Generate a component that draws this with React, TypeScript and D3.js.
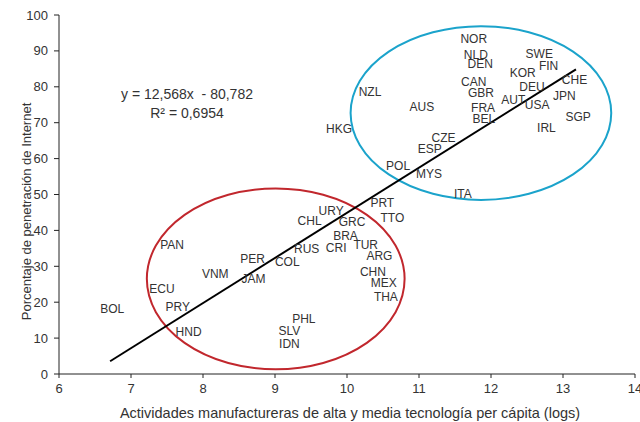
import React from "react";
import * as d3 from "d3";

const countries = ["NOR","NLD","DEN","SWE","FIN","KOR","CHE","CAN","GBR","DEU","AUT","USA","JPN","NZL","AUS","FRA","BEL","SGP","IRL","HKG","CZE","ESP","POL","MYS","ITA","PRT","TTO","URY","CHL","GRC","BRA","TUR","RUS","CRI","ARG","PAN","PER","COL","VNM","JAM","CHN","MEX","THA","ECU","PRY","BOL","HND","PHL","SLV","IDN"];
const techLogs = [11.76,11.79,11.85,12.67,12.80,12.44,13.16,11.76,11.86,12.57,12.31,12.64,13.02,10.32,11.04,11.89,11.90,13.21,12.77,9.89,11.34,11.15,10.71,11.14,11.61,10.49,10.63,9.78,9.48,10.07,9.98,10.26,9.44,9.85,10.45,7.57,8.69,9.17,8.17,8.70,10.36,10.51,10.54,7.43,7.65,6.74,7.80,9.40,9.20,9.20];
const internetPct = [93.3,89.05,86.3,89.3,85.9,84.0,81.9,81.4,78.2,80.0,76.3,75.0,77.4,78.6,74.5,74.2,71.1,71.7,68.7,68.4,65.7,62.6,58.1,55.7,50.3,47.6,43.5,45.5,42.6,42.4,38.5,35.9,34.9,35.2,32.9,36.0,32.1,31.3,27.9,26.4,28.6,25.4,21.4,23.6,18.7,18.3,11.8,15.4,12.0,8.4];

const xTicks = [6,7,8,9,10,11,12,13,14];
const yTicks = [0,10,20,30,40,50,60,70,80,90,100];
const slope = 12.568;
const intercept = -80.782;
const trendRange = [6.71, 13.18];
const equationLines = ["y = 12,568x  - 80,782", "R\u00b2 = 0,6954"];
// ellipses: [cx, cy, rx, ry] in data units
const highGroup = [11.86, 72.7, 1.81, 24.2];
const lowGroup = [9.01, 26.5, 1.79, 25.2];

const FONT = "'Liberation Sans', Arial, sans-serif";

export default function App() {
  const x = d3.scaleLinear().domain([6, 14]).range([59, 635]);
  const y = d3.scaleLinear().domain([0, 100]).range([374, 15]);
  const line = d3.line<number>().x((d) => x(d)).y((d) => y(slope * d + intercept));
  const ell = (e: number[], color: string) => (
    <ellipse
      cx={x(e[0])}
      cy={y(e[1])}
      rx={x(e[0] + e[2]) - x(e[0])}
      ry={y(e[1] - e[3]) - y(e[1])}
      fill="none"
      stroke={color}
      strokeWidth={2}
    />
  );
  return (
    <svg width={640} height={422} style={{ position: "absolute", left: 0, top: 0, background: "#fff" }} fontFamily={FONT}>
      <rect width={640} height={422} fill="#fff" />
      {ell(highGroup, "#1ba3cb")}
      {ell(lowGroup, "#c1272d")}
      <path d={line(trendRange) || ""} stroke="#000" strokeWidth={2} fill="none" />
      {/* axes */}
      <line x1={x(6)} x2={x(14)} y1={y(0)} y2={y(0)} stroke="#222" strokeWidth={1} />
      <line x1={x(6)} x2={x(6)} y1={y(0)} y2={y(100)} stroke="#222" strokeWidth={1} />
      {xTicks.map((t) => (
        <g key={"x" + t}>
          <line x1={x(t)} x2={x(t)} y1={y(0)} y2={y(0) + 4} stroke="#222" />
          <text x={x(t)} y={y(0) + 14} dy="0.35em" textAnchor="middle" fontSize={13} fill="#333">{t}</text>
        </g>
      ))}
      {yTicks.map((t) => (
        <g key={"y" + t}>
          <line x1={x(6) - 5} x2={x(6)} y1={y(t)} y2={y(t)} stroke="#222" />
          <text x={x(6) - 11} y={y(t)} dy="0.35em" textAnchor="end" fontSize={13} fill="#333">{t}</text>
        </g>
      ))}
      <text x={350} y={417.5} textAnchor="middle" fontSize={14.5} fill="#333">
        Actividades manufactureras de alta y media tecnología per cápita (logs)
      </text>
      <text transform="translate(30.5,211.5) rotate(-90)" textAnchor="middle" fontSize={13} fill="#333">
        Porcentaje de penetración de Internet
      </text>
      {equationLines.map((s, i) => (
        <text key={s} x={187} y={94 + i * 18.7} dy="0.35em" textAnchor="middle" fontSize={14} fill="#333" style={{ whiteSpace: "pre" }}>{s}</text>
      ))}
      {countries.map((c, i) => (
        <text key={c} x={x(techLogs[i])} y={y(internetPct[i])} dy="0.35em" textAnchor="middle" fontSize={12} fill="#333">{c}</text>
      ))}
    </svg>
  );
}
